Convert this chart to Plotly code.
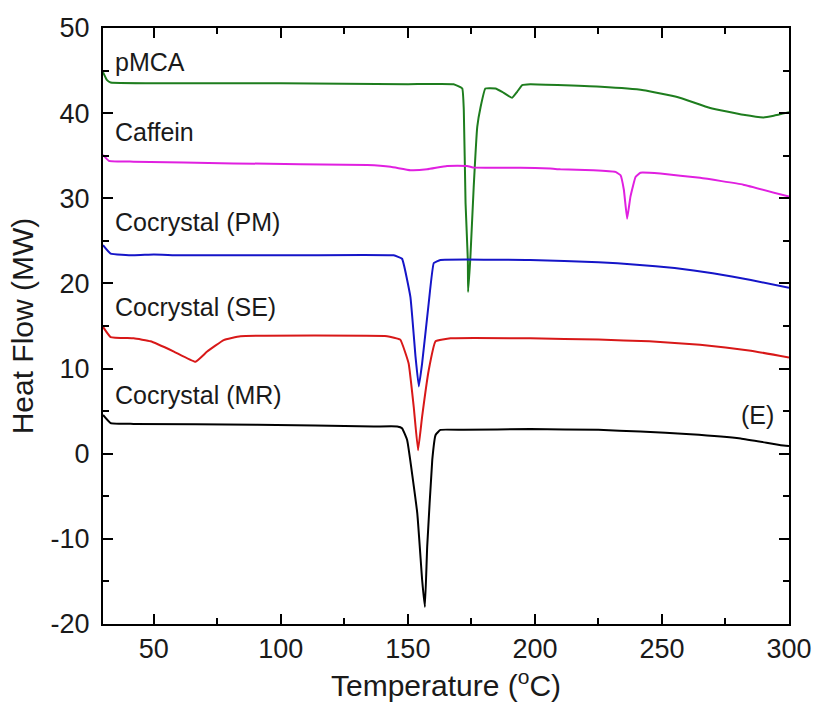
import plotly.graph_objects as go

# pMCA (green)
pmca_t = [30, 31.5, 33, 60, 100, 150, 168, 171.4, 172.0, 172.7, 173.6, 173.7, 174.6, 175.9, 177.3,
          178.6, 180.5, 184.5, 187.1, 191.0, 193.0, 195.0, 198.2, 226, 242.8, 256, 269, 282, 290, 294, 300]
pmca_v = [44.8, 43.9, 43.6, 43.5, 43.5, 43.4, 43.4, 42.9, 40.4, 29.4, 22.7, 19.0, 23.1, 31.3, 38.4,
          40.7, 42.9, 42.9, 42.5, 41.8, 42.5, 43.3, 43.4, 43.1, 42.7, 41.9, 40.6, 39.8, 39.5, 39.7, 40.1]

# Caffein (magenta)
caf_t = [30, 32.3, 42, 81.4, 134, 143.2, 151, 157.6, 165.4, 173.3, 176, 194.3, 206, 210, 223, 231.7,
         233.7, 235, 236.3, 237.6, 239.6, 241.5, 249.4, 265, 282, 300]
caf_v = [35.1, 34.4, 34.3, 34.1, 33.9, 33.7, 33.3, 33.4, 33.8, 33.8, 33.6, 33.6, 33.5, 33.4, 33.3, 33.1,
         32.7, 31.0, 27.6, 30.2, 32.5, 33.0, 32.9, 32.4, 31.6, 30.2]

# Cocrystal (PM) (blue)
pm_t = [30, 33, 42, 50, 60, 100, 144.4, 147.7, 151, 153, 154.3, 155.6, 158.2, 160.2, 162.8, 198.2,
        225, 240, 255, 270, 285, 300]
pm_v = [24.5, 23.5, 23.3, 23.4, 23.3, 23.3, 23.3, 22.9, 18.4, 11.4, 7.9, 10.6, 17.7, 22.4, 22.75, 22.75,
        22.5, 22.2, 21.8, 21.2, 20.4, 19.5]

# Cocrystal (SE) (red)
se_t = [30, 33, 42.1, 48.7, 57.9, 66.4, 71, 77.5, 84.1, 141.8, 147, 150.3, 152.3, 154, 155.6, 158.2,
        160.9, 166.8, 198.2, 225, 245, 265, 285, 300]
se_v = [14.9, 13.7, 13.55, 13.2, 12.0, 10.8, 12.0, 13.35, 13.8, 13.8, 13.4, 10.6, 5.5, 0.4, 4.35, 9.8,
        13.2, 13.55, 13.55, 13.4, 13.2, 12.8, 12.1, 11.3]

# Cocrystal (MR) (black)
mr_t = [30, 33, 42, 90.7, 136.6, 145.8, 147.7, 149.7, 153.7, 155.6, 156.7, 157.6, 159.6, 160.9, 162.8,
        172, 198.2, 225, 241.5, 261.2, 281, 296.8, 300]
mr_v = [4.55, 3.6, 3.5, 3.4, 3.2, 3.2, 3.0, 1.6, -7.0, -14.8, -18.0, -10.9, -0.7, 2.2, 2.8,
        2.8, 2.9, 2.8, 2.6, 2.3, 1.8, 1.0, 0.9]

series = [
    ("pMCA", pmca_t, pmca_v, "#1e7d1e"),
    ("Caffein", caf_t, caf_v, "#e020e0"),
    ("Cocrystal (PM)", pm_t, pm_v, "#1515c8"),
    ("Cocrystal (SE)", se_t, se_v, "#d81818"),
    ("Cocrystal (MR)", mr_t, mr_v, "#000000"),
]

# axis ticks
x_ticks = [50, 100, 150, 200, 250, 300]
y_ticks = [-20, -10, 0, 10, 20, 30, 40, 50]
y_ticktext = ["-20", "-10", "0", "10", "20", "30", "40", "50"]

# label texts and positions (data coords)
label_names = ["pMCA", "Caffein", "Cocrystal (PM)", "Cocrystal (SE)", "Cocrystal (MR)", "(E)"]
label_x = [34.1, 34.1, 34.1, 34.1, 34.1, 287.6]
label_y = [46.0, 37.8, 27.2, 17.2, 6.9, 4.6]
label_anchor = ["left", "left", "left", "left", "left", "center"]

FONT = "Arial, 'Liberation Sans', sans-serif"

fig = go.Figure()
for name, t, v, c in series:
    fig.add_trace(go.Scatter(x=t, y=v, mode="lines", name=name,
                             line=dict(color=c, width=2, shape="spline", smoothing=0.3),
                             showlegend=False))

for txt, lx, ly, anc in zip(label_names, label_x, label_y, label_anchor):
    fig.add_annotation(x=lx, y=ly, text=txt, showarrow=False, xanchor=anc, yanchor="middle",
                       font=dict(family=FONT, size=25, color="#1a1a1a"))

axis_common = dict(showline=True, linecolor="black", linewidth=2, mirror="ticks",
                   ticks="inside", ticklen=10, tickwidth=2, tickcolor="black",
                   showgrid=False, zeroline=False, automargin=False,
                   tickfont=dict(family=FONT, size=27, color="#1a1a1a"),
                   title_font=dict(family=FONT, size=30, color="#1a1a1a"))

fig.update_xaxes(range=[30, 300], tickmode="array", tickvals=x_ticks,
                 ticktext=[str(v) for v in x_ticks],
                 minor=dict(ticks="inside", dtick=25, tick0=0, ticklen=6, tickwidth=2, tickcolor="black"),
                 title=dict(text="Temperature (<sup>o</sup>C)", standoff=12),
                 **axis_common)
fig.update_yaxes(range=[-20, 50], tickmode="array", tickvals=y_ticks, ticktext=y_ticktext,
                 minor=dict(ticks="inside", dtick=5, tick0=0, ticklen=6, tickwidth=2, tickcolor="black"),
                 title=dict(text="Heat Flow (MW)", standoff=8),
                 ticklabelstandoff=6,
                 **axis_common)

fig.update_layout(width=818, height=712, plot_bgcolor="white", paper_bgcolor="white",
                  margin=dict(l=103, r=29, t=28, b=88))

fig.write_html("out.html")
